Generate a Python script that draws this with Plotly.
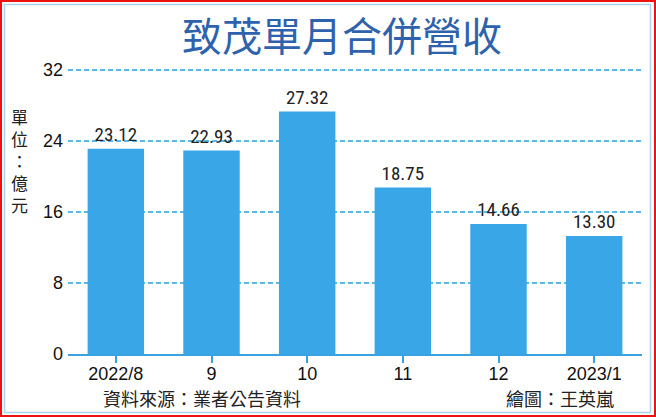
import plotly.graph_objects as go

categories = ["2022/8", "9", "10", "11", "12", "2023/1"]
revenue = [23.12, 22.93, 27.32, 18.75, 14.66, 13.30]
y_ticks = [0, 8, 16, 24, 32]
unit_label = "單位：億元"

W, H = 656, 417
L, R, T, B = 68, 14, 62, 63
PW, PH = W - L - R, H - T - B
Y_TOP = 32 * PH / (354 - 70)


def px(x):
    return (x - L) / PW


def py(y):
    return (H - B - y) / PH


fig = go.Figure()
fig.add_trace(go.Bar(
    x=categories, y=revenue,
    marker=dict(color="#38a6e7", line=dict(width=0)),
    texttemplate="%{y:.2f}", textposition="outside",
    textfont=dict(family="Liberation Sans Narrow, Roboto Condensed, Arial Narrow, DejaVu Sans Condensed, Liberation Sans",
                  size=19, color="#222222"),
    cliponaxis=False, hoverinfo="skip",
))

fig.update_layout(
    width=W, height=H,
    margin=dict(l=L, r=R, t=T, b=B),
    paper_bgcolor="white", plot_bgcolor="white",
    showlegend=False, bargap=0.41,
    font=dict(family="Liberation Sans, Arial, Noto Sans CJK TC", color="#222222"),
    title=dict(text="致茂單月合併營收", x=342 / W, y=1 - 37 / H, xref="container", yref="container",
               xanchor="center", yanchor="middle",
               font=dict(family="Noto Sans CJK TC", size=40, color="#2f62ad")),
)
fig.update_xaxes(
    showline=True, linecolor="#39a3e2", linewidth=2,
    ticks="outside", ticklen=7, tickwidth=2, tickcolor="#39a3e2",
    tickfont=dict(size=18, color="#111111", family="Liberation Sans, Arial"),
    ticklabelstandoff=-5,
    showgrid=False, fixedrange=True,
)
fig.update_yaxes(
    range=[0, Y_TOP], tickvals=y_ticks, ticktext=[str(v) for v in y_ticks],
    showgrid=True, gridcolor="#5ab9ea", gridwidth=1.5, griddash="5px,3px",
    zeroline=False, showline=False, ticks="",
    tickfont=dict(size=18, color="#111111", family="Liberation Sans, Arial"),
    ticklabelstandoff=4, fixedrange=True,
)

fig.add_annotation(text="<br>".join(unit_label), xref="paper", yref="paper",
                   x=px(20), y=py(160), xanchor="center", yanchor="middle", showarrow=False,
                   font=dict(family="Noto Sans CJK TC", size=17, color="#222222"))
fig.add_annotation(text="資料來源：業者公告資料", xref="paper", yref="paper",
                   x=px(101), y=py(398), xanchor="left", yanchor="middle", showarrow=False,
                   font=dict(family="Noto Sans CJK TC", size=18, color="#222222"))
fig.add_annotation(text="繪圖：王英嵐", xref="paper", yref="paper",
                   x=px(616), y=py(398), xanchor="right", yanchor="middle", showarrow=False,
                   font=dict(family="Noto Sans CJK TC", size=18, color="#222222"))

fig.add_shape(type="rect", xref="paper", yref="paper",
              x0=px(1), x1=px(655), y0=py(1), y1=py(416),
              line=dict(color="#ee1111", width=2), layer="above")
fig.add_shape(type="rect", xref="paper", yref="paper",
              x0=px(4.5), x1=px(650.5), y0=py(4.5), y1=py(412.5),
              line=dict(color="#a9d3ef", width=1.5), layer="above")

fig.write_html("out.html", config={"displayModeBar": False},
               post_script="document.body.style.margin='0';document.body.style.overflow='hidden';")
